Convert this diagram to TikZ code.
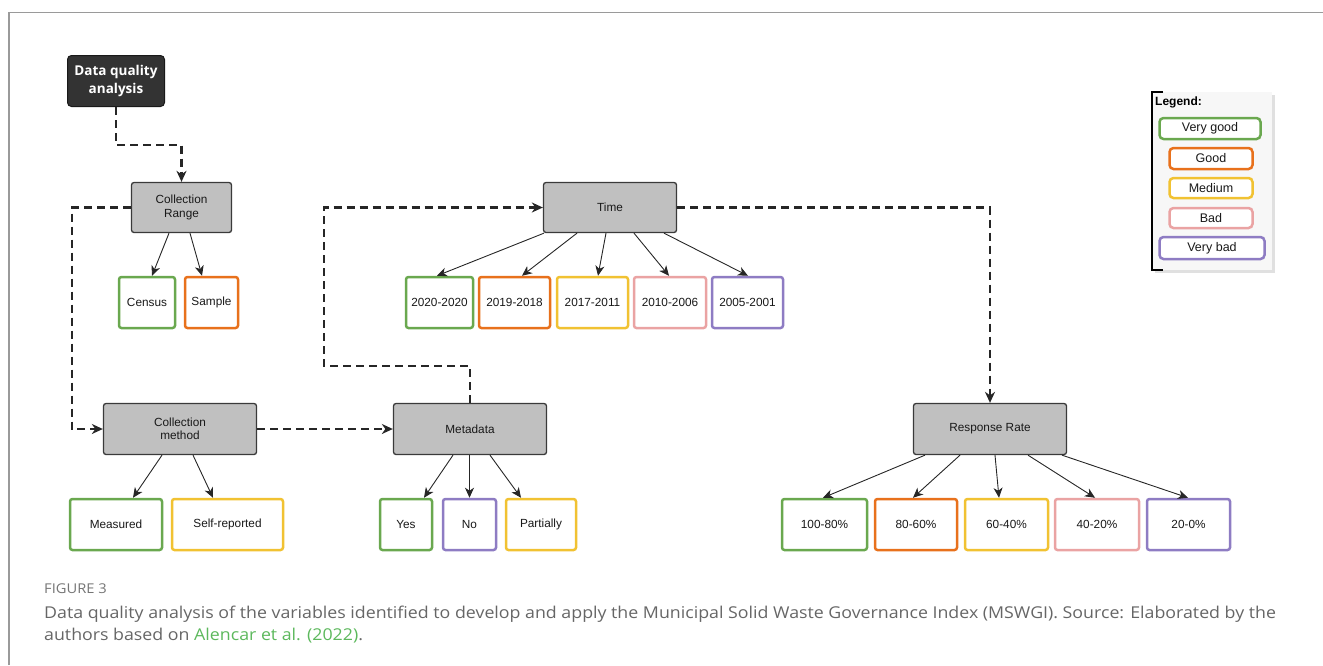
\documentclass[tikz,border=0pt]{standalone}
\usepackage{fontspec}
\setmainfont{Liberation Sans}
\newfontfamily\dqafont{Open Sans}
\newfontfamily\capfont[FakeStretch=1.09]{Open Sans}
\usetikzlibrary{arrows.meta,calc}
\definecolor{cgreen}{HTML}{6AA84F}
\definecolor{corange}{HTML}{E8711C}
\definecolor{cyellow}{HTML}{F1C232}
\definecolor{cpink}{HTML}{EAA3A3}
\definecolor{cpurple}{HTML}{8E7CC3}
\definecolor{boxgray}{HTML}{C0C0C0}
\definecolor{boxedge}{HTML}{3A3A3A}
\definecolor{dark}{HTML}{333333}
\definecolor{capgray}{HTML}{666666}
\definecolor{linkgreen}{HTML}{5CB85C}
\definecolor{framegray}{HTML}{9A9A9A}
\begin{document}
\begin{tikzpicture}[x=1pt,y=-1pt,
  box/.style={draw, rounded corners=2.5pt, inner sep=0pt, align=center,
    font=\fontsize{11.8}{13.5}\selectfont, text=black!90},
  gbox/.style={box, fill=boxgray, draw=boxedge, line width=1.3pt},
  cbox/.style={box, fill=white, line width=2.5pt},
  lgbox/.style={box, fill=white, line width=2.5pt, rounded corners=4pt,
    font=\fontsize{12.5}{14}\selectfont},
  arr/.style={-{Stealth[length=10pt,width=9pt,inset=3pt]}, line width=0.9pt, draw=black!85},
  dline/.style={line width=2.2pt, dash pattern=on 8pt off 5pt, draw=black!85},
  darr/.style={dline, -{Stealth[length=11pt,width=10pt,inset=3.5pt]}}
]
\useasboundingbox (0,0) rectangle (1323,665);
% frame
\draw[framegray, line width=1.3pt] (9,665) -- (9,12.5) -- (1323,12.5);

% main nodes
\node[box, fill=dark, draw=black!90, line width=1pt, rounded corners=4pt,
  minimum width=97pt, minimum height=51pt, text=white,
  font=\dqafont\bfseries\fontsize{13.5}{18}\selectfont] (dqa) at (116,81) {Data quality\\analysis};
\node[gbox, minimum width=100pt, minimum height=50pt] (cr) at (181.5,207.5) {Collection\\Range};
\node[cbox, draw=cgreen, minimum width=56pt, minimum height=51pt] (census) at (147,302.5) {Census};
\node[cbox, draw=corange, minimum width=53pt, minimum height=51pt] (sample) at (211.5,302.5) {Sample};

\node[gbox, minimum width=153pt, minimum height=51pt] (cm) at (180,429) {Collection\\method};
\node[cbox, draw=cgreen, minimum width=92pt, minimum height=51pt] (measured) at (116,524.5) {Measured};
\node[cbox, draw=cyellow, minimum width=111pt, minimum height=51pt] (selfrep) at (227.5,524.5) {Self-reported};

\node[gbox, minimum width=153pt, minimum height=51pt] (meta) at (470,429) {Metadata};
\node[cbox, draw=cgreen, minimum width=52pt, minimum height=51pt] (yes) at (406,524.5) {Yes};
\node[cbox, draw=cpurple, minimum width=53pt, minimum height=51pt] (no) at (469.5,524.5) {No};
\node[cbox, draw=cyellow, minimum width=70pt, minimum height=51pt] (partially) at (541,524.5) {Partially};

\node[gbox, minimum width=133pt, minimum height=50pt] (time) at (610,207.5) {Time};
\node[cbox, draw=cgreen, minimum width=67pt, minimum height=51pt] (y1) at (439.5,302.5) {2020-2020};
\node[cbox, draw=corange, minimum width=71pt, minimum height=51pt] (y2) at (514.5,302.5) {2019-2018};
\node[cbox, draw=cyellow, minimum width=71pt, minimum height=51pt] (y3) at (592.5,302.5) {2017-2011};
\node[cbox, draw=cpink, minimum width=72pt, minimum height=51pt] (y4) at (670,302.5) {2010-2006};
\node[cbox, draw=cpurple, minimum width=71pt, minimum height=51pt] (y5) at (747.5,302.5) {2005-2001};

\node[gbox, minimum width=153pt, minimum height=51pt] (rr) at (990,429) {Response Rate};
\node[cbox, draw=cgreen, minimum width=85pt, minimum height=51pt] (p1) at (824.5,524.5) {100-80\%};
\node[cbox, draw=corange, minimum width=82pt, minimum height=51pt] (p2) at (916,524.5) {80-60\%};
\node[cbox, draw=cyellow, minimum width=83pt, minimum height=51pt] (p3) at (1006.5,524.5) {60-40\%};
\node[cbox, draw=cpink, minimum width=84pt, minimum height=51pt] (p4) at (1097,524.5) {40-20\%};
\node[cbox, draw=cpurple, minimum width=83pt, minimum height=51pt] (p5) at (1188.5,524.5) {20-0\%};

% dashed connectors
\coordinate (c1) at (324,366);
\draw[darr] (dqa.south) -- ++(0,38) -| (cr.north);
\draw[darr] (cr.west) -- ++(-59,0) |- (cm.west);
\draw[darr] (cm.east) -- (meta.west);
\draw[darr] (meta.north) |- (c1) |- (time.west);
\draw[darr] (time.east) -| (rr.north);

% solid arrows
\draw[arr] ($(cr.south)+(-12.5,0)$) -- ($(census.north)+(5,0)$);
\draw[arr] ($(cr.south)+(8.5,0)$) -- ($(sample.north)+(-9.5,0)$);
\draw[arr] ($(cm.south)+(-18,0)$) -- ($(measured.north)+(17,0)$);
\draw[arr] ($(cm.south)+(13,0)$) -- ($(selfrep.north)+(-14.5,0)$);
\draw[arr] ($(meta.south)+(-17,0)$) -- ($(yes.north)+(18,0)$);
\draw[arr] ($(meta.south)+(-0.5,0)$) -- ($(no.north)+(0,0)$);
\draw[arr] ($(meta.south)+(20,0)$) -- ($(partially.north)+(-20,0)$);
\draw[arr] ($(time.south)+(-66,0)$) -- ($(y1.north)+(-2.5,0)$);
\draw[arr] ($(time.south)+(-33,0)$) -- ($(y2.north)+(7.5,0)$);
\draw[arr] ($(time.south)+(-4,0)$) -- ($(y3.north)+(5.5,0)$);
\draw[arr] ($(time.south)+(24,0)$) -- ($(y4.north)+(-1,0)$);
\draw[arr] ($(time.south)+(54,0)$) -- ($(y5.north)+(0.5,0)$);
\draw[arr] ($(rr.south)+(-65,0)$) -- ($(p1.north)+(-1.5,0)$);
\draw[arr] ($(rr.south)+(-30,0)$) -- ($(p2.north)+(-3,0)$);
\draw[arr] ($(rr.south)+(5,0)$) -- ($(p3.north)+(-7.5,0)$);
\draw[arr] ($(rr.south)+(38,0)$) -- ($(p4.north)+(-2,0)$);
\draw[arr] ($(rr.south)+(72,0)$) -- ($(p5.north)+(-0.5,0)$);

% legend
\fill[black!12] (1155,95) rectangle (1275,273);
\node[fill=black!3, minimum width=120pt, minimum height=178pt, inner sep=0pt] (lgbg) at (1212,181) {};
\draw[black, line width=1.5pt] (1163,92) -- (1152,92) -- (1152,270) -- (1163,270);
\node[anchor=west, inner sep=0pt, font=\bfseries\fontsize{12}{14}\selectfont] (lgtitle) at (1155,102) {Legend:};
\node[lgbox, draw=cgreen, minimum width=101pt, minimum height=21pt] (l1) at (1210,128.5) {Very good};
\node[lgbox, draw=corange, minimum width=83pt, minimum height=21pt] (l2) at (1211,158.5) {Good};
\node[lgbox, draw=cyellow, minimum width=83pt, minimum height=20pt] (l3) at (1211,188) {Medium};
\node[lgbox, draw=cpink, minimum width=83pt, minimum height=20pt] (l4) at (1211,218) {Bad};
\node[lgbox, draw=cpurple, minimum width=105pt, minimum height=22pt] (l5) at (1212,248) {Very bad};

% caption
\node[anchor=base west, inner sep=0pt, text=capgray!90,
  font=\capfont\fontsize{13.5}{16}\selectfont] (figlabel) at (44,593) {FIGURE 3};
\node[anchor=base west, inner sep=0pt, text=capgray,
  font=\capfont\fontsize{16.3}{20}\selectfont] (cap1) at (44,618)
  {Data quality analysis of the variables identified to develop and apply the Municipal Solid Waste Governance Index (MSWGI). Source: Elaborated by the};
\node[anchor=base west, inner sep=0pt, text=capgray,
  font=\capfont\fontsize{16.3}{20}\selectfont] (cap2) at (44,640)
  {authors based on \textcolor{linkgreen}{Alencar et al. (2022)}.};
\end{tikzpicture}
\end{document}
